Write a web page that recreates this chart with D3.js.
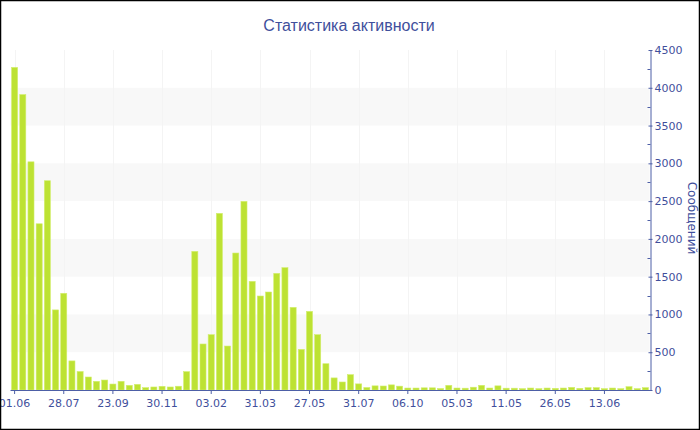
<!DOCTYPE html>
<html><head><meta charset="utf-8">
<script src="https://cdn.jsdelivr.net/npm/d3@7"></script>
<style>body{margin:0;background:#fff}svg{display:block}</style>
</head><body>
<script>
const title = "Статистика активности";
const yTitle = "Сообщений";
const values = [4270,3910,3020,2200,2770,1060,1280,385,245,172,
  115,132,79,115,62,75,31,40,49,40,
  50,243,1835,609,732,2338,582,1813,2497,1438,
  1244,1297,1544,1619,1094,538,1041,732,348,160,
  106,203,81,33,55,53,68,51,26,26,
  29,29,20,62,26,24,37,62,26,55,
  24,24,18,26,18,26,22,26,35,22,
  31,31,18,26,18,44,18,31];
const categories = values.map((d,i)=>i);
const tickLabels = ["01.06","28.07","23.09","30.11","03.02","31.03","27.05","31.07","06.10","05.03","11.05","26.05","13.06"];
const tickEvery = 6;
const yTicks = [0,500,1000,1500,2000,2500,3000,3500,4000,4500];

const W=700,H=430;
const svg=d3.select("body").append("svg").attr("width",W).attr("height",H);
const axisCol="#4d5fa6", textCol="#3f4f9c";
const x=d3.scaleBand().domain(categories).range([10.5,649.5]).paddingInner(0.26).paddingOuter(0.13);
const y=d3.scaleLinear().domain([0,4500]).range([390,50]);

// bands
for(let i=0;i<yTicks.length-1;i++){
  if(i%2===1){
    svg.append("rect").attr("x",10.5).attr("width",639).attr("y",y(yTicks[i+1])).attr("height",y(yTicks[i])-y(yTicks[i+1])).attr("fill","#f8f8f8");
  }
}
// vertical grid
const tickCats = tickLabels.map((l,i)=>categories[i*tickEvery]);
svg.append("g").selectAll("line").data(tickCats).join("line")
  .attr("x1",d=>Math.round(x(d)+x.bandwidth()/2)+0.5).attr("x2",d=>Math.round(x(d)+x.bandwidth()/2)+0.5)
  .attr("y1",50).attr("y2",390).attr("stroke","#f4f4f4").attr("stroke-width",1);

// bars
svg.append("g").selectAll("rect").data(values).join("rect")
  .attr("x",(d,i)=>x(categories[i])).attr("width",x.bandwidth())
  .attr("y",d=>y(d)).attr("height",d=>390-y(d))
  .attr("fill","#bde233").attr("stroke","#d2ee6e").attr("stroke-width",0.6);

// x axis
const xa=svg.append("g").attr("transform","translate(0,390)")
  .call(d3.axisBottom(x).tickValues(tickCats).tickSize(4).tickSizeOuter(0)
    .tickFormat(d=>tickLabels[d/tickEvery]));
xa.select(".domain").attr("stroke",axisCol).attr("d","M10.5,0.5H650");
xa.selectAll(".tick line").attr("stroke",axisCol);
xa.selectAll("text").attr("fill",textCol).attr("font-family","DejaVu Sans").attr("font-size",11).attr("dy","0.9em");

// y axis right
const ya=svg.append("g").attr("transform","translate(650.5,0)")
  .call(d3.axisRight(y).tickValues(yTicks).tickSize(2).tickSizeOuter(0).tickPadding(2).tickFormat(d3.format("d")));
ya.select(".domain").attr("stroke",axisCol);
ya.selectAll(".tick line").attr("stroke",axisCol).attr("x1",-2);
ya.selectAll("text").attr("fill",textCol).attr("font-family","DejaVu Sans").attr("font-size",11);
// minor ticks
const minor=yTicks.slice(0,-1).map(d=>d+250);
svg.append("g").selectAll("line").data(minor).join("line")
  .attr("x1",647.5).attr("x2",650.5).attr("y1",d=>Math.round(y(d))+0.5).attr("y2",d=>Math.round(y(d))+0.5)
  .attr("stroke",axisCol);

// titles
svg.append("text").attr("x",349).attr("y",31).attr("text-anchor","middle")
  .attr("font-family","Liberation Sans").attr("font-size",16).attr("fill",textCol).text(title);
svg.append("text").attr("transform","translate(688,218) rotate(90)").attr("text-anchor","middle")
  .attr("font-family","DejaVu Sans").attr("font-size",12).attr("fill",textCol).text(yTitle);

// border
svg.append("rect").attr("x",0.5).attr("y",0.5).attr("width",699).attr("height",429)
  .attr("fill","none").attr("stroke","#000").attr("stroke-width",1.5);
</script>
</body></html>
